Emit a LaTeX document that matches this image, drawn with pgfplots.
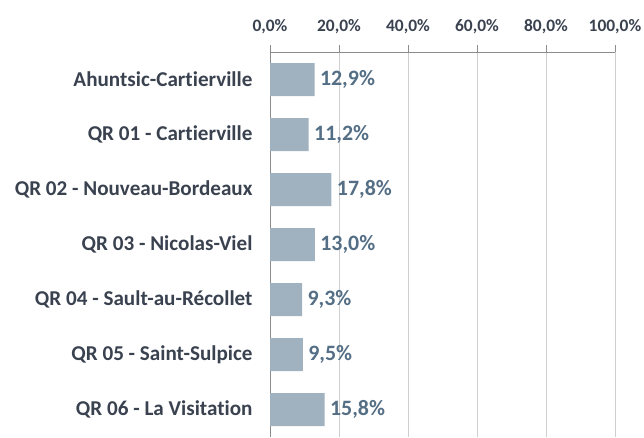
\documentclass[border=0pt]{standalone}
\usepackage{fontspec}
\setmainfont{Carlito}[Ligatures={NoCommon}]
\usepackage{pgfplots}
\pgfplotsset{compat=1.18}
\definecolor{barc}{HTML}{A0B2C0}
\definecolor{valc}{HTML}{546E85}
\definecolor{txtc}{HTML}{3A4250}
\definecolor{axc}{HTML}{8C8C8C}
\definecolor{gridc}{HTML}{CFCFCF}
\begin{document}
\begin{tikzpicture}
\path[use as bounding box] (0,0) rectangle (644bp,438bp);
\begin{axis}[
  at={(270bp,1bp)}, anchor=south west,
  scale only axis, width=345bp, height=385bp,
  xbar, bar width=33bp,
  xmin=0, xmax=100,
  ymin=-0.5, ymax=6.5, y dir=reverse,
  axis x line*=top, axis y line*=left,
  axis line style={axc, line width=0.8pt},
  /pgf/number format/assume math mode=true,
  xtick={0,20,40,60,80,100},
  xticklabels={{0,0\%},{20,0\%},{40,0\%},{60,0\%},{80,0\%},{100,0\%}},
  xticklabel style={font=\fontsize{17.5}{20}\selectfont\bfseries, text=txtc, yshift=8bp},
  xmajorgrids, major grid style={gridc, line width=0.8pt},
  tick align=outside,
  major tick length=7bp,
  x tick style={axc, line width=0.8pt},
  ytick={0,1,2,3,4,5,6},
  yticklabels={Ahuntsic-Cartierville,QR 01 - Cartierville,QR 02 - Nouveau-Bordeaux,QR 03 - Nicolas-Viel,QR 04 - Sault-au-Récollet,QR 05 - Saint-Sulpice,QR 06 - La Visitation},
  yticklabel style={font=\fontsize{21.2}{25}\selectfont\bfseries, text=txtc, xshift=-7bp},
  y tick style={draw=none},
  minor ytick={-0.5,0.5,1.5,2.5,3.5,4.5,5.5,6.5},
  minor tick length=6bp,
  minor y tick style={axc, line width=0.8pt},
  nodes near coords={\pgfmathprintnumber[fixed,fixed zerofill,precision=1,use comma,assume math mode=true]{\pgfplotspointmeta}\%},
  nodes near coords style={font=\fontsize{22}{26}\selectfont\bfseries, text=valc, anchor=west, xshift=2bp},
  clip=false,
]
\addplot[fill=barc, draw=none] coordinates {
(12.9,0) (11.2,1) (17.8,2) (13.0,3) (9.3,4) (9.5,5) (15.8,6)
};
\end{axis}
\end{tikzpicture}
\end{document}
